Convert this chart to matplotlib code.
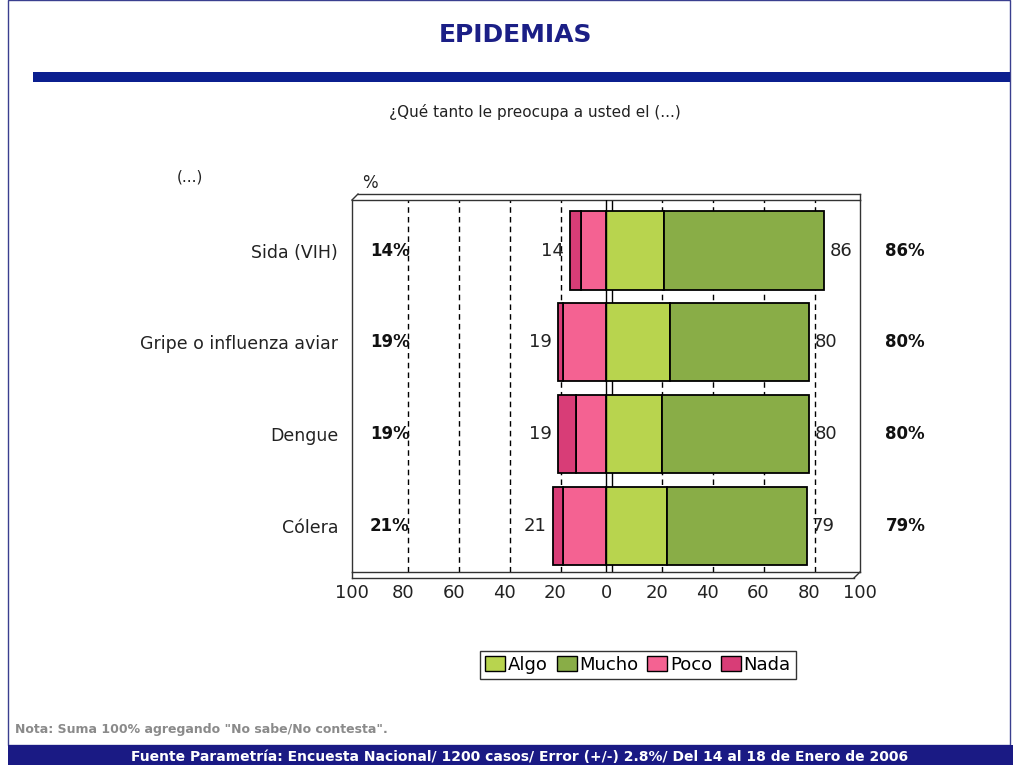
import matplotlib
matplotlib.use("Agg")
import matplotlib.pyplot as plt
import numpy as np
from matplotlib.patches import Rectangle, Patch
from matplotlib.lines import Line2D

categories = ["Sida (VIH)", "Gripe o influenza aviar", "Dengue", "Cólera"]
algo = [23, 25, 22, 24]
mucho = [63, 55, 58, 55]
poco = [10, 17, 12, 17]
nada = [4, 2, 7, 4]
neg_totals = [14, 19, 19, 21]
pos_totals = [86, 80, 80, 79]
ticks = [-100, -80, -60, -40, -20, 0, 20, 40, 60, 80, 100]

C_ALGO = "#b8d44e"
C_MUCHO = "#89ad47"
C_POCO = "#f46292"
C_NADA = "#d83d77"
NAVY = "#1b1f86"

W, H = 1013, 765
fig = plt.figure(figsize=(W / 100, H / 100), dpi=100)


def fx(px):
    return px / W


def fy(py):
    return 1 - py / H


# slide frame, title band and footer
fig.add_artist(Rectangle((fx(8), fy(745)), fx(1010) - fx(8), fy(0) - fy(745),
                         transform=fig.transFigure, fill=False, ec="#3a3f8f", lw=1))
fig.text(fx(515), fy(35), "EPIDEMIAS", ha="center", va="center",
         fontsize=18, fontweight="bold", color=NAVY)
fig.add_artist(Rectangle((fx(33), fy(82)), fx(1010) - fx(33), fy(72) - fy(82),
                         transform=fig.transFigure, color="#0b1f8f", lw=0))
fig.text(fx(535), fy(112), "¿Qué tanto le preocupa a usted el (...)",
         ha="center", va="center", fontsize=11, color="#222222")
fig.text(fx(190), fy(177), "(...)", ha="center", va="center", fontsize=11, color="#222222")
fig.text(fx(370), fy(183), "%", ha="center", va="center", fontsize=12, color="#222222")
fig.text(fx(15), fy(730), 'Nota: Suma 100% agregando "No sabe/No contesta".',
         ha="left", va="center", fontsize=9, fontweight="bold", color="#8a8a8a")
fig.add_artist(Rectangle((fx(8), 0), 1 - fx(8), fy(745),
                         transform=fig.transFigure, color="#1a1a84", lw=0))
fig.text(fx(520), fy(757), "Fuente Parametría: Encuesta Nacional/ 1200 casos/ Error (+/-) 2.8%/ Del 14 al 18 de Enero de 2006",
         ha="center", va="center", fontsize=10, fontweight="bold", color="white")

# chart
ax = fig.add_axes([fx(352), fy(572), fx(860) - fx(352), fy(200) - fy(572)])
y = np.arange(len(categories))
h = 0.85
depth = 2.2  # pseudo 3D offset in data units

for t in ticks[1:-1]:
    if t == 0:
        continue
    ax.axvline(t + depth, color="black", ls=(0, (4, 3)), lw=1, zorder=1)

kw = dict(height=h, edgecolor="black", linewidth=1.3, zorder=3)
ax.barh(y, algo, color=C_ALGO, label="Algo", **kw)
ax.barh(y, mucho, left=algo, color=C_MUCHO, label="Mucho", **kw)
ax.barh(y, [-v for v in poco], color=C_POCO, label="Poco", **kw)
ax.barh(y, [-v for v in nada], left=[-v for v in poco], color=C_NADA, label="Nada", **kw)

ax.axvline(0, color="black", lw=1, zorder=4)
ax.axvline(depth, color="black", lw=1, zorder=0.5)

for i in range(len(categories)):
    ax.text(-neg_totals[i] - 2.5, y[i], f"{neg_totals[i]}", ha="right", va="center",
            fontsize=13, color="#222222", zorder=5)
    ax.text(pos_totals[i] + 2.0, y[i], f"{pos_totals[i]}", ha="left", va="center",
            fontsize=13, color="#222222", zorder=5)
    ax.text(-93, y[i], f"{neg_totals[i]}%", ha="left", va="center",
            fontsize=12, fontweight="bold", color="#111111", zorder=5)
    ax.text(1.05, y[i], f"{pos_totals[i]}%", transform=ax.get_yaxis_transform(),
            ha="left", va="center", fontsize=12, fontweight="bold", color="#111111")

ax.set_xlim(-100, 100)
ax.set_ylim(3.5, -0.55)
ax.set_xticks(ticks)
ax.set_xticklabels([str(abs(t)) for t in ticks])
ax.set_yticks(y)
ax.set_yticklabels(categories)
ax.tick_params(axis="x", length=0, labelsize=13, pad=9, colors="#222222")
ax.tick_params(axis="y", length=0, labelsize=12.5, pad=10, colors="#222222")

for s in ax.spines.values():
    s.set_linewidth(1)
    s.set_color("#333333")

# pseudo 3D frame: left wall and floor
dx, dy = 6 / (860 - 352), 6 / (572 - 200)
frame = dict(transform=ax.transAxes, color="#333333", lw=1, clip_on=False)
ax.add_line(Line2D([0, dx], [1, 1 + dy], **frame))
ax.add_line(Line2D([dx, 1], [1 + dy, 1 + dy], **frame))
ax.add_line(Line2D([1, 1], [1 + dy, 1], **frame))
ax.add_line(Line2D([0, 0], [0, -dy], **frame))
ax.add_line(Line2D([0, 1 - dx], [-dy, -dy], **frame))
ax.add_line(Line2D([1 - dx, 1], [-dy, 0], **frame))

handles = [Patch(facecolor=c, edgecolor="black", label=l)
           for c, l in [(C_ALGO, "Algo"), (C_MUCHO, "Mucho"), (C_POCO, "Poco"), (C_NADA, "Nada")]]
leg = fig.legend(handles=handles, loc="center", bbox_to_anchor=(fx(638), fy(665)),
                 ncol=4, fontsize=13, frameon=True, fancybox=False, handlelength=1.1,
                 handleheight=0.9, handletextpad=0.15, columnspacing=0.5,
                 borderpad=0.3, edgecolor="black")
leg.get_frame().set_linewidth(1)

fig.savefig("out.png", dpi=100)
